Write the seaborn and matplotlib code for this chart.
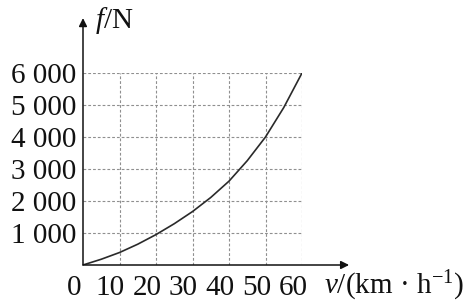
import matplotlib
matplotlib.use("Agg")
import matplotlib.pyplot as plt
import matplotlib.transforms as mtransforms
import seaborn as sns
import pandas as pd

# data
speed = [0, 5, 10, 15, 20, 25, 30, 35, 40, 45, 50, 55, 60]
force = [0, 180, 390, 650, 950, 1290, 1670, 2110, 2620, 3260, 4000, 4920, 6000]
x_ticks = [0, 10, 20, 30, 40, 50, 60]
y_ticks = [1000, 2000, 3000, 4000, 5000, 6000]
y_tick_labels = ["1 000", "2 000", "3 000", "4 000", "5 000", "6 000"]

sns.set_style("white")
plt.rcParams["font.family"] = ["Liberation Serif", "DejaVu Serif"]
plt.rcParams["mathtext.fontset"] = "custom"
plt.rcParams["mathtext.rm"] = "Liberation Serif"
plt.rcParams["mathtext.it"] = "Liberation Serif:italic"

W, H = 475, 307
fig = plt.figure(figsize=(W / 100, H / 100), dpi=100)
x0, x1, y0, y1 = 83, 302, 265, 73
ax = fig.add_axes([x0 / W, (H - y0) / H, (x1 - x0) / W, (y0 - y1) / H])

df = pd.DataFrame({"v": speed, "f": force})
sns.lineplot(data=df, x="v", y="f", ax=ax, color="#2a2a2a", linewidth=1.2)

ax.set_xlim(0, 60)
ax.set_ylim(0, 6000)
for s in ax.spines.values():
    s.set_visible(False)

for xv in x_ticks[1:]:
    ax.axvline(xv, color="#8f8f8f", linestyle=(0, (2.5, 1.8)), linewidth=0.8, zorder=0)
for yv in y_ticks:
    ax.axhline(yv, color="#8f8f8f", linestyle=(0, (2.5, 1.8)), linewidth=0.8, zorder=0)

ax.set_xticks(x_ticks)
ax.set_xticklabels([str(v) for v in x_ticks])
ax.set_yticks(y_ticks)
ax.set_yticklabels(y_tick_labels)
ax.tick_params(axis="both", length=0, labelsize=21, colors="#111111")
ax.tick_params(axis="y", pad=5)
ax.tick_params(axis="x", pad=7)
offset = mtransforms.ScaledTranslation(-9 / 100, 0, fig.dpi_scale_trans)
for lab in ax.get_xticklabels():
    lab.set_transform(lab.get_transform() + offset)
ax.set_xlabel("")
ax.set_ylabel("")

# axes with arrows
ax.annotate("", xy=(1.215, 0), xytext=(0, 0), xycoords="axes fraction",
            textcoords="axes fraction",
            arrowprops=dict(arrowstyle="-|>", color="#111111", lw=1.1,
                            mutation_scale=12, shrinkA=0, shrinkB=0),
            annotation_clip=False)
ax.annotate("", xy=(0, 1.286), xytext=(0, 0), xycoords="axes fraction",
            textcoords="axes fraction",
            arrowprops=dict(arrowstyle="-|>", color="#111111", lw=1.1,
                            mutation_scale=12, shrinkA=0, shrinkB=0),
            annotation_clip=False)

fig.text(95 / W, 1 - 20 / H, r"$f$/N", fontsize=21, va="center", ha="left",
         color="#111111")
fig.text(324 / W, 1 - 286 / H, r"$v$/(km · h$^{-1}$)", fontsize=21, va="center",
         ha="left", color="#111111")

fig.savefig("out.png", dpi=100, facecolor="white")
